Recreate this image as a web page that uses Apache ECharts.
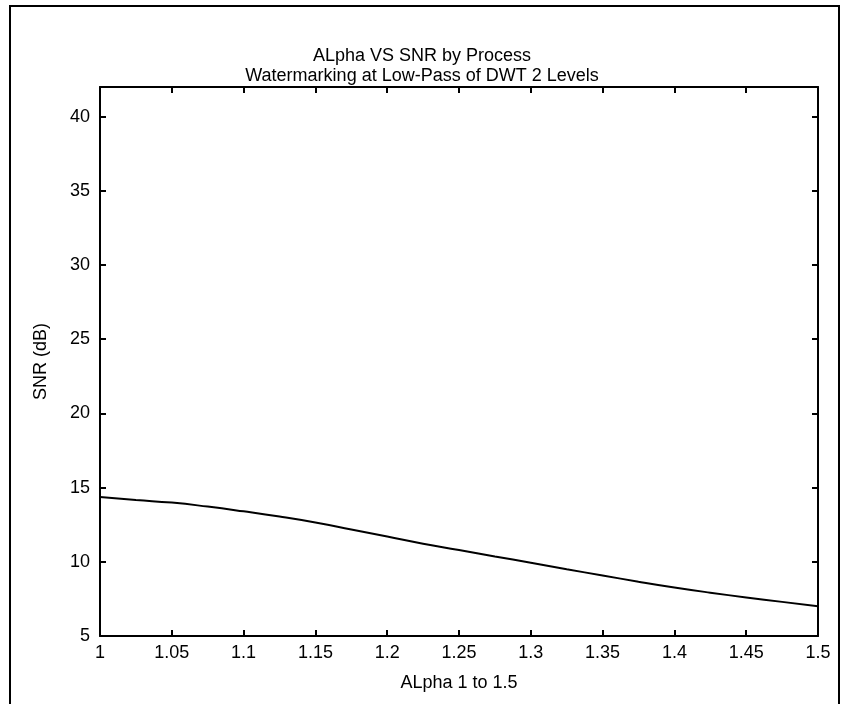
<!DOCTYPE html>
<html>
<head>
<meta charset="utf-8">
<script src="https://cdn.jsdelivr.net/npm/echarts@6/dist/echarts.min.js"></script>
<style>
  html, body { margin: 0; padding: 0; background: #fff; }
  #chart { width: 844px; height: 704px; }
</style>
</head>
<body>
<div id="chart"></div>
<script>
// alpha values (x) and SNR readings (dB)
const alpha = [1.00, 1.025, 1.05, 1.075, 1.10, 1.125, 1.15, 1.175, 1.20, 1.225, 1.25,
               1.275, 1.30, 1.325, 1.35, 1.375, 1.40, 1.425, 1.45, 1.475, 1.50];
const snr = [14.36, 14.16, 13.99, 13.72, 13.40, 13.05, 12.65, 12.18, 11.70, 11.22, 10.80,
             10.36, 9.94, 9.50, 9.08, 8.66, 8.27, 7.92, 7.60, 7.30, 7.00];

const titleLines = ['ALpha VS SNR by Process', 'Watermarking at Low-Pass of DWT 2 Levels'];
const xName = 'ALpha 1 to 1.5';
const yName = 'SNR (dB)';

const font = '"Liberation Sans", Arial, sans-serif';
let chart = echarts.init(document.getElementById('chart'));

let tickIn = { show: true, inside: true, length: 6, lineStyle: { color: '#000', width: 2 } };
let axLine = { show: true, lineStyle: { color: '#000', width: 2 } };

let option = {
  backgroundColor: '#fff',
  animation: false,
  title: {
    text: titleLines.join('\n'),
    left: 'center',
    top: 41,
    textStyle: { fontFamily: font, fontSize: 18, fontWeight: 'normal', color: '#000', lineHeight: 20 }
  },
  grid: { left: 100, right: 26, top: 87, bottom: 68 },
  xAxis: [{
    type: 'value',
    min: 1,
    max: 1.5,
    interval: 0.05,
    name: xName,
    nameLocation: 'middle',
    nameGap: 38,
    nameTextStyle: { fontFamily: font, fontSize: 18, color: '#000' },
    axisLine: axLine,
    axisTick: tickIn,
    splitLine: { show: false },
    axisLabel: {
      fontFamily: font, fontSize: 18, color: '#000', margin: 8,
      formatter: function (v) { return String(+v.toFixed(2)); }
    }
  }, {
    type: 'value',
    position: 'top',
    min: 1,
    max: 1.5,
    interval: 0.05,
    axisLine: axLine,
    axisTick: tickIn,
    axisLabel: { show: false },
    splitLine: { show: false }
  }],
  yAxis: [{
    type: 'value',
    min: 5,
    max: 42,
    interval: 5,
    name: yName,
    nameLocation: 'middle',
    nameGap: 50,
    nameTextStyle: { fontFamily: font, fontSize: 18, color: '#000' },
    axisLine: axLine,
    axisTick: tickIn,
    splitLine: { show: false },
    axisLabel: { fontFamily: font, fontSize: 18, color: '#000', margin: 10, showMaxLabel: false }
  }, {
    type: 'value',
    position: 'right',
    min: 5,
    max: 42,
    interval: 5,
    axisLine: axLine,
    axisTick: tickIn,
    axisLabel: { show: false },
    splitLine: { show: false }
  }],
  graphic: [{
    type: 'rect',
    shape: { x: 10, y: 6, width: 829, height: 720 },
    style: { fill: 'none', stroke: '#000', lineWidth: 2 },
    silent: true
  }],
  series: [{
    type: 'line',
    data: alpha.map(function (a, i) { return [a, snr[i]]; }),
    smooth: true,
    showSymbol: false,
    lineStyle: { color: '#000', width: 2 }
  }]
};
chart.setOption(option);
</script>
</body>
</html>
